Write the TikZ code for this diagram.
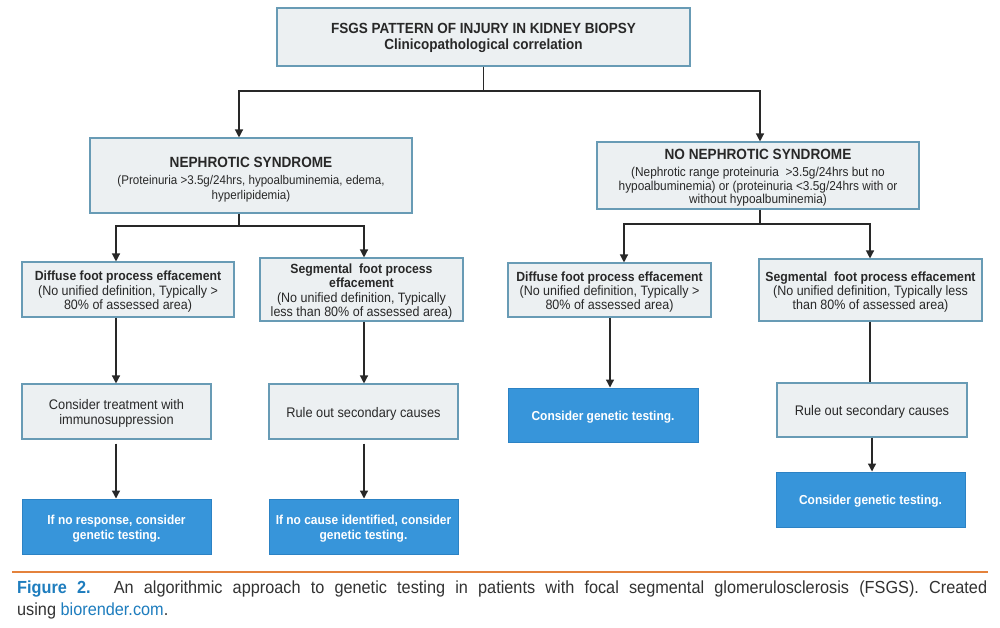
\documentclass[tikz,border=0pt]{standalone}
\usepackage{fontspec}
\setmainfont[FakeStretch=0.92]{Liberation Sans}
\newfontfamily\capfont[FakeStretch=0.93]{Liberation Sans}
\usetikzlibrary{arrows.meta}
\definecolor{boxfill}{RGB}{236,240,242}
\definecolor{boxdraw}{RGB}{104,155,181}
\definecolor{bluefill}{RGB}{55,149,218}
\definecolor{bluedraw}{RGB}{44,130,196}
\definecolor{txt}{RGB}{40,40,40}
\definecolor{lin}{RGB}{40,40,40}
\definecolor{orangeline}{RGB}{228,130,60}
\definecolor{figblue}{RGB}{30,125,190}
\definecolor{captxt}{RGB}{50,50,50}
\begin{document}
\begin{tikzpicture}[x=1pt,y=-1pt,
  box/.style={draw=boxdraw, fill=boxfill, line width=1.1pt, inner sep=0pt, align=center, text=txt},
  bluebox/.style={draw=bluedraw, fill=bluefill, line width=1pt, inner sep=0pt, align=center, text=white,
    font=\fontsize{13}{15}\selectfont\bfseries},
  lowbox/.style={box, font=\fontsize{13.9}{14.5}\selectfont},
  midbox/.style={box, font=\fontsize{13.6}{14.2}\selectfont},
  conn/.style={draw=lin, line width=1.3pt},
  arr/.style={conn, -{Triangle[width=8pt,length=8pt]}}]
\useasboundingbox (0,0) rectangle (1000,627);
\fill[white] (0,0) rectangle (1000,627);

% level 0
\node[box, minimum width=413pt, minimum height=58pt, font=\fontsize{14.7}{16}\selectfont\bfseries] (top) at (483.5,37)
  {\rule{0pt}{13pt}FSGS PATTERN OF INJURY IN KIDNEY BIOPSY\\Clinicopathological correlation};

% level 1
\node[box, minimum width=322pt, minimum height=75pt, font=\fontsize{12.6}{15}\selectfont] (neph) at (251,175.5)
  {{\fontsize{14.8}{15}\selectfont\bfseries\rule{0pt}{19pt}NEPHROTIC SYNDROME}\\[2pt]
   (Proteinuria >3.5g/24hrs, hypoalbuminemia, edema,\\hyperlipidemia)};
\node[box, minimum width=322pt, minimum height=67pt, font=\fontsize{12.9}{13.7}\selectfont] (noneph) at (758,175.5)
  {{\fontsize{14.8}{15}\selectfont\bfseries\rule{0pt}{15pt}NO NEPHROTIC SYNDROME}\\[3pt]
   (Nephrotic range proteinuria~ >3.5g/24hrs but no\\hypoalbuminemia) or (proteinuria <3.5g/24hrs with or\\without hypoalbuminemia)};

% level 2
\node[midbox, minimum width=212pt, minimum height=55pt] (L1) at (128,289.5)
  {{\fontsize{13.3}{14}\selectfont\bfseries\rule{0pt}{14pt}Diffuse foot process effacement}\\(No unified definition, Typically >\\80\% of assessed area)};
\node[midbox, minimum width=203pt, minimum height=63pt] (L2) at (361.5,289.5)
  {{\fontsize{13.3}{14}\selectfont\bfseries\rule{0pt}{14pt}Segmental~ foot process}\\{\fontsize{13.3}{14}\selectfont\bfseries effacement}\\(No unified definition, Typically\\less than 80\% of assessed area)};
\node[midbox, minimum width=203pt, minimum height=54pt] (R1) at (609.5,290)
  {{\fontsize{13.3}{14}\selectfont\bfseries\rule{0pt}{14pt}Diffuse foot process effacement}\\(No unified definition, Typically >\\80\% of assessed area)};
\node[midbox, minimum width=223pt, minimum height=62pt] (R2) at (870.5,290)
  {{\fontsize{13.3}{14}\selectfont\bfseries\rule{0pt}{14pt}Segmental~ foot process effacement}\\(No unified definition, Typically less\\than 80\% of assessed area)};

% level 3
\node[lowbox, minimum width=189pt, minimum height=55pt] (L1b) at (116.5,411.5)
  {\rule{0pt}{14pt}Consider treatment with\\immunosuppression};
\node[lowbox, minimum width=189pt, minimum height=55pt] (L2b) at (363.5,411.5)
  {\rule{0pt}{14pt}Rule out secondary causes};
\node[bluebox, minimum width=190pt, minimum height=54pt] (R1b) at (603,415)
  {\rule{0pt}{13pt}Consider genetic testing.};
\node[lowbox, minimum width=190pt, minimum height=54pt] (R2b) at (872,410)
  {\rule{0pt}{14pt}Rule out secondary causes};

% level 4
\node[bluebox, minimum width=189pt, minimum height=55pt] (L1c) at (116.5,526.5)
  {\rule{0pt}{13pt}If no response, consider\\genetic testing.};
\node[bluebox, minimum width=189pt, minimum height=55pt] (L2c) at (363.5,526.5)
  {\rule{0pt}{13pt}If no cause identified, consider\\genetic testing.};
\node[bluebox, minimum width=189pt, minimum height=55pt] (R2c) at (870.5,499.5)
  {\rule{0pt}{13pt}Consider genetic testing.};

% columns and junctions
\coordinate (j0) at (483.5,91);
\coordinate (jL) at (239,91);
\coordinate (jR) at (760,91);
\coordinate (nL) at (239,226);
\coordinate (nR) at (760,224);
\coordinate (c1) at (116,0);
\coordinate (c2) at (364,0);
\coordinate (c3) at (624,0);
\coordinate (c3b) at (610,0);
\coordinate (c4) at (870,0);
\coordinate (c4b) at (872,0);

% connectors
\draw[conn] (top.south) -- (j0);
\draw[arr] (j0) -| (jL |- neph.north);
\draw[arr] (j0) -| (jR |- noneph.north);

\draw[conn] (jL |- neph.south) -- (nL);
\draw[arr] (nL) -| (c1 |- L1.north);
\draw[arr] (nL) -| (c2 |- L2.north);
\draw[conn] (jR |- noneph.south) -- (nR);
\draw[arr] (nR) -| (c3 |- R1.north);
\draw[arr] (nR) -| (c4 |- R2.north);

\draw[arr] (c1 |- L1.south) -- (c1 |- L1b.north);
\draw[arr] (c2 |- L2.south) -- (c2 |- L2b.north);
\draw[arr] (c3b |- R1.south) -- (c3b |- R1b.north);
\draw[conn] (c4 |- R2.south) -- (c4 |- R2b.north);

\draw[arr] ([yshift=-4pt]c1 |- L1b.south) -- (c1 |- L1c.north);
\draw[arr] ([yshift=-4pt]c2 |- L2b.south) -- (c2 |- L2c.north);
\draw[arr] (c4b |- R2b.south) -- (c4b |- R2c.north);

% caption
\coordinate (rl) at (12,572);
\coordinate (rr) at (988,572);
\draw[orangeline, line width=1.6pt] (rl) -- (rr);
\node[anchor=base west, inner sep=0pt, text=captxt] (cap1) at (17,593)
  {\capfont\fontsize{17.5}{20}\selectfont\makebox[970pt][s]{\textcolor{figblue}{\bfseries Figure 2.} An algorithmic approach to genetic testing in patients with focal segmental glomerulosclerosis (FSGS). Created}};
\node[anchor=base west, inner sep=0pt, text=captxt] (cap2) at (17,615)
  {\capfont\fontsize{17.5}{20}\selectfont using \textcolor{figblue}{biorender.com}.};
\end{tikzpicture}
\end{document}
